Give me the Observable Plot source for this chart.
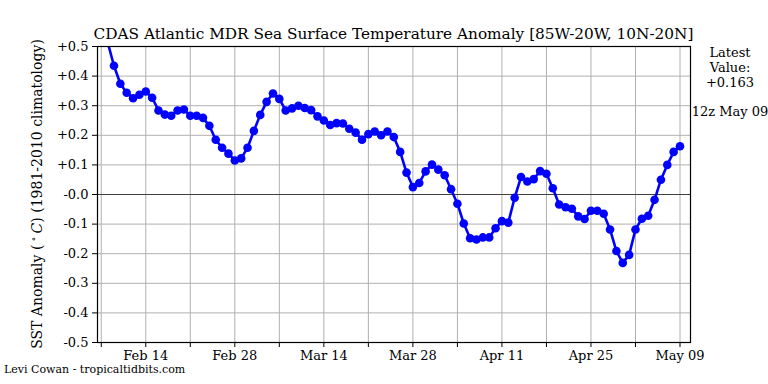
<!DOCTYPE html>
<html>
<head>
<meta charset="utf-8">
<script src="https://cdn.jsdelivr.net/npm/d3@7"></script>
<script src="https://cdn.jsdelivr.net/npm/@observablehq/plot@0.6"></script>
<style>
  html, body { margin: 0; padding: 0; background: #fff; }
  svg, svg text { font-family: "DejaVu Serif", serif; }
</style>
</head>
<body>
<div id="chart"></div>
<script>
// ---- Data (SST anomaly, °C), daily values per month of 2025 ----
const febStartDay = 8;
const febValues = [0.515, 0.435, 0.374, 0.344, 0.325, 0.337, 0.348, 0.327, 0.284, 0.270,
  0.266, 0.284, 0.287, 0.266, 0.266, 0.259, 0.232, 0.185, 0.158, 0.138, 0.115];
const marValues = [0.122, 0.158, 0.215, 0.269, 0.313, 0.341, 0.323, 0.284, 0.291, 0.300,
  0.292, 0.285, 0.264, 0.250, 0.235, 0.241, 0.240, 0.222, 0.209, 0.185,
  0.204, 0.213, 0.200, 0.213, 0.194, 0.144, 0.074, 0.025, 0.039, 0.078, 0.101];
const aprValues = [0.084, 0.065, 0.018, -0.031, -0.098, -0.148, -0.152, -0.145, -0.145, -0.114,
  -0.090, -0.095, -0.011, 0.059, 0.044, 0.052, 0.079, 0.070, 0.021, -0.034,
  -0.043, -0.048, -0.074, -0.083, -0.055, -0.055, -0.065, -0.118, -0.191, -0.231];
const mayValues = [-0.204, -0.118, -0.082, -0.072, -0.018, 0.050, 0.100, 0.144, 0.163];

const yTicks = [0.5, 0.4, 0.3, 0.2, 0.1, 0, -0.1, -0.2, -0.3, -0.4, -0.5];
const yTickLabels = ["+0.5", "+0.4", "+0.3", "+0.2", "+0.1", "-0.0", "-0.1", "-0.2", "-0.3", "-0.4", "-0.5"];
const xTickDates = ["2025-02-07", "2025-02-14", "2025-02-21", "2025-02-28", "2025-03-07", "2025-03-14",
  "2025-03-21", "2025-03-28", "2025-04-04", "2025-04-11", "2025-04-18", "2025-04-25", "2025-05-02", "2025-05-09"];
const xTickLabels = ["", "Feb 14", "", "Feb 28", "", "Mar 14", "", "Mar 28", "", "Apr 11", "", "Apr 25", "", "May 09"];

const titleText = "CDAS Atlantic MDR Sea Surface Temperature Anomaly [85W-20W, 10N-20N]";
const latestLines = ["Latest", "Value:", "+0.163"];
const latestDate = "12z May 09";
const credit = "Levi Cowan - tropicaltidbits.com";

// ---- Build table ----
const data = [];
const months = [[1, febStartDay, febValues], [2, 1, marValues], [3, 1, aprValues], [4, 1, mayValues]];
for (const [m, d0, vals] of months) {
  vals.forEach((v, i) => data.push({date: new Date(Date.UTC(2025, m, d0 + i)), value: v}));
}
const xt = xTickDates.map(s => new Date(s + "T00:00:00Z"));
const xLabel = new Map(xt.map((d, i) => [+d, xTickLabels[i]]));
const yLabel = new Map(yTicks.map((t, i) => [t, yTickLabels[i]]));

const DAY = 864e5;
const x0 = new Date(Date.UTC(2025, 1, 14) - 7.59 * DAY);
const x1 = new Date(Date.UTC(2025, 4, 9) + 1.65 * DAY);

const W = 768, H = 384;
const FONT = "DejaVu Serif, serif";
const plot = Plot.plot({
  width: W, height: H,
  marginLeft: 97, marginRight: 78, marginTop: 46, marginBottom: 42,
  style: {fontFamily: FONT, fontSize: "13px", background: "#fff", color: "#000"},
  x: {type: "utc", domain: [x0, x1]},
  y: {domain: [-0.5, 0.5]},
  marks: [
    Plot.gridX(xt, {stroke: "#b0b0b0", strokeOpacity: 1, strokeWidth: 1}),
    Plot.gridY(yTicks, {stroke: "#b0b0b0", strokeOpacity: 1, strokeWidth: 1}),
    Plot.ruleY([0], {stroke: "#404040", strokeWidth: 1.2}),
    Plot.line(data, {x: "date", y: "value", stroke: "#0000ff", strokeWidth: 2.6, clip: true}),
    Plot.dot(data, {x: "date", y: "value", fill: "#0000ff", r: 4.3, clip: true}),
    Plot.frame({stroke: "#000", strokeWidth: 1.2}),
    Plot.axisX(xt, {tickSize: 5, tickPadding: 3, label: null, tickFormat: d => xLabel.get(+d) ?? "", fontSize: 13}),
    Plot.axisY(yTicks, {tickSize: 5, tickPadding: 4, label: null, tickFormat: t => yLabel.get(t) ?? "", fontSize: 13})
  ]
});
document.getElementById("chart").appendChild(plot);

// ---- Extra texts ----
const svg = d3.select(plot);
const plotCx = (97 + (W - 78)) / 2;
const addText = (x, y, size, anchor, s) =>
  svg.append("text").attr("x", x).attr("y", y).attr("text-anchor", anchor)
    .attr("font-family", FONT).attr("font-size", size).attr("fill", "#000").text(s);

addText(plotCx, 39, 15.3, "middle", titleText);

const yl = svg.append("text").attr("transform", `translate(42,194) rotate(-90)`)
  .attr("text-anchor", "middle").attr("font-family", FONT).attr("font-size", 14).attr("fill", "#000");
yl.append("tspan").text("SST Anomaly (");
yl.append("tspan").attr("font-size", 10).attr("dy", -5).text(" \u2218 ");
yl.append("tspan").attr("font-style", "italic").attr("dy", 5).text("C");
yl.append("tspan").text(") (1981-2010 climatology)");

latestLines.forEach((s, i) => addText(730, 57 + i * 15, 13, "middle", s));
addText(730, 116, 13, "middle", latestDate);
addText(4, 373, 11, "start", credit);
</script>
</body>
</html>
